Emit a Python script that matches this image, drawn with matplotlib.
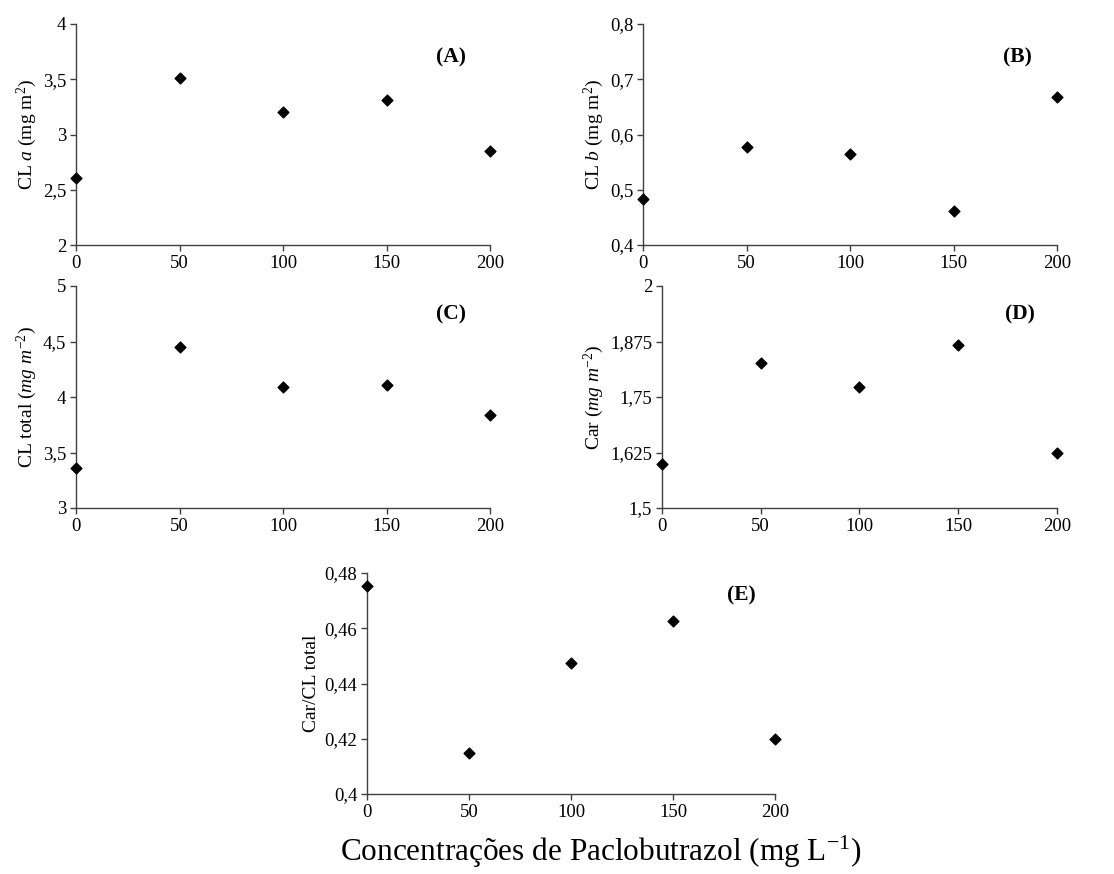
import matplotlib
matplotlib.use("Agg")
import matplotlib.pyplot as plt

plt.rcParams['font.family'] = ['Liberation Serif', 'DejaVu Serif']
plt.rcParams['mathtext.fontset'] = 'custom'
plt.rcParams['mathtext.rm'] = 'Liberation Serif'
plt.rcParams['mathtext.it'] = 'Liberation Serif:italic'
plt.rcParams['mathtext.bf'] = 'Liberation Serif:bold'

conc = [0, 50, 100, 150, 200]
x_ticks = [0, 50, 100, 150, 200]

cl_a = [2.61, 3.51, 3.20, 3.31, 2.85]
cl_b = [0.483, 0.577, 0.564, 0.462, 0.668]
cl_total = [3.36, 4.45, 4.09, 4.11, 3.84]
car = [1.598, 1.827, 1.773, 1.868, 1.625]
car_cl = [0.4754, 0.415, 0.4475, 0.4625, 0.420]

yt_a = [2, 2.5, 3, 3.5, 4]
yl_a = ["2", "2,5", "3", "3,5", "4"]
yt_b = [0.4, 0.5, 0.6, 0.7, 0.8]
yl_b = ["0,4", "0,5", "0,6", "0,7", "0,8"]
yt_c = [3, 3.5, 4, 4.5, 5]
yl_c = ["3", "3,5", "4", "4,5", "5"]
yt_d = [1.5, 1.625, 1.75, 1.875, 2]
yl_d = ["1,5", "1,625", "1,75", "1,875", "2"]
yt_e = [0.4, 0.42, 0.44, 0.46, 0.48]
yl_e = ["0,4", "0,42", "0,44", "0,46", "0,48"]

W, H = 1114, 874
fig = plt.figure(figsize=(W / 100, H / 100), dpi=100)

def box(l, r, t, b):
    return [l / W, 1 - b / H, (r - l) / W, (b - t) / H]

panels = [
    (box(76, 490, 24, 245), cl_a, yt_a, yl_a, "CL $\\it{a}$ (mg m$^{2}$)", "(A)", (0.905, 0.85)),
    (box(643, 1057, 24, 245), cl_b, yt_b, yl_b, "CL $\\it{b}$ (mg m$^{2}$)", "(B)", (0.905, 0.85)),
    (box(76, 490, 286, 508), cl_total, yt_c, yl_c, "CL total $\\it{(mg\\ m^{-2})}$", "(C)", (0.905, 0.87)),
    (box(662, 1057, 286, 508), car, yt_d, yl_d, "Car $\\it{(mg\\ m^{-2})}$", "(D)", (0.905, 0.87)),
    (box(367, 775, 573, 794), car_cl, yt_e, yl_e, "Car/CL total", "(E)", (0.917, 0.90)),
]

for rect, vals, yt, yl, ylab, tag, tagpos in panels:
    ax = fig.add_axes(rect)
    ax.scatter(conc, vals, marker='D', s=30, color='black', clip_on=False, zorder=3)
    ax.set_xlim(0, 200)
    ax.set_ylim(yt[0], yt[-1])
    ax.set_xticks(x_ticks)
    ax.set_xticklabels([str(v) for v in x_ticks])
    ax.set_yticks(yt)
    ax.set_yticklabels(yl)
    for s in ['top', 'right']:
        ax.spines[s].set_visible(False)
    for s in ['left', 'bottom']:
        ax.spines[s].set_color('#404040')
        ax.spines[s].set_linewidth(1.0)
    ax.tick_params(axis='both', labelsize=13.5, length=4, width=1.0, color='#404040',
                   direction='out', pad=3)
    ax.set_ylabel(ylab, fontsize=14, labelpad=3)
    ax.text(tagpos[0], tagpos[1], tag, transform=ax.transAxes, fontsize=15.5,
            fontweight='bold', ha='center', va='center')

fig.text(601 / W, 1 - 852 / H, "Concentrações de Paclobutrazol (mg L$^{-1}$)",
         fontsize=22.5, ha='center', va='center')

fig.savefig("out.png", dpi=100, facecolor='white')
